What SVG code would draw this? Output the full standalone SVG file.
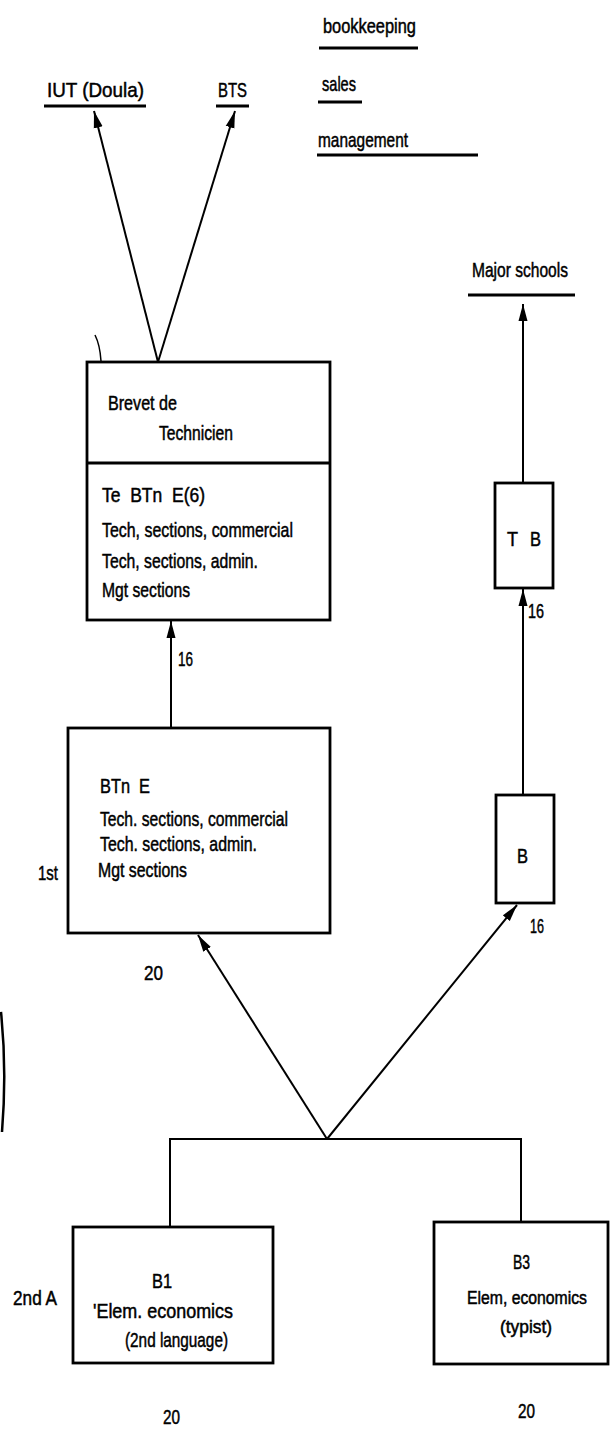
<svg xmlns="http://www.w3.org/2000/svg" width="610" height="1429" viewBox="0 0 610 1429">
<defs>
<marker id="ah" markerUnits="userSpaceOnUse" markerWidth="18" markerHeight="10" refX="17" refY="5" orient="auto">
<path d="M0,0.5 L17,5 L0,9.5 Z" fill="#000"/>
</marker>
<style>
text{font-family:"Liberation Sans Narrow","Liberation Sans",Arial,sans-serif;font-size:21px;fill:#000;stroke:#000;stroke-width:0.5px;}
.sm{font-size:18px;}
.box{fill:#fff;stroke:#000;stroke-width:2.8;}
.ln{fill:none;stroke:#000;stroke-width:2;}
.ul{fill:none;stroke:#000;stroke-width:2.8;}
.mark{fill:none;stroke:#000;}
</style>
</defs>
<rect x="0" y="0" width="610" height="1429" fill="#fff"/>

<g id="labels-top">
<text x="323" y="33" textLength="93" lengthAdjust="spacingAndGlyphs">bookkeeping</text>
<line class="ul" x1="319" y1="48" x2="418" y2="48"/>
<text x="322" y="91" textLength="34" lengthAdjust="spacingAndGlyphs">sales</text>
<line class="ul" x1="318" y1="102" x2="362" y2="102"/>
<text x="318" y="147" textLength="90" lengthAdjust="spacingAndGlyphs">management</text>
<line class="ul" x1="317" y1="155" x2="478" y2="155"/>
</g>

<g id="iut">
<text x="47" y="97" textLength="97" lengthAdjust="spacingAndGlyphs">IUT (Doula)</text>
<line class="ul" x1="44" y1="106" x2="146" y2="106"/>
</g>
<g id="bts">
<text x="218" y="97" textLength="29" lengthAdjust="spacingAndGlyphs">BTS</text>
<line class="ul" x1="216" y1="106" x2="249" y2="106"/>
</g>
<g id="major-schools">
<text x="472" y="277" textLength="96" lengthAdjust="spacingAndGlyphs">Major schools</text>
<line class="ul" x1="468" y1="295" x2="575" y2="295"/>
</g>

<g id="brevet">
<rect class="box" x="87" y="362" width="243" height="258"/>
<line class="box" x1="87" y1="463" x2="330" y2="463"/>
<text x="108" y="410" textLength="69" lengthAdjust="spacingAndGlyphs">Brevet de</text>
<text x="159" y="440" textLength="74" lengthAdjust="spacingAndGlyphs">Technicien</text>
<text x="102" y="502" textLength="103" lengthAdjust="spacingAndGlyphs" xml:space="preserve">Te  BTn  E(6)</text>
<text x="102" y="537" textLength="191" lengthAdjust="spacingAndGlyphs">Tech, sections, commercial</text>
<text x="102" y="568" textLength="156" lengthAdjust="spacingAndGlyphs">Tech, sections, admin.</text>
<text x="102" y="597" textLength="88" lengthAdjust="spacingAndGlyphs">Mgt sections</text>
</g>

<g id="btne">
<rect class="box" x="68" y="728" width="262" height="205"/>
<text x="100" y="793" textLength="50" lengthAdjust="spacingAndGlyphs" xml:space="preserve">BTn  E</text>
<text x="100" y="826" textLength="188" lengthAdjust="spacingAndGlyphs">Tech. sections, commercial</text>
<text x="100" y="851" textLength="157" lengthAdjust="spacingAndGlyphs">Tech. sections, admin.</text>
<text x="98" y="877" textLength="89" lengthAdjust="spacingAndGlyphs">Mgt sections</text>
</g>

<g id="tb">
<rect class="box" x="495" y="483" width="58" height="105"/>
<text x="507" y="546" textLength="11" lengthAdjust="spacingAndGlyphs">T</text>
<text x="530" y="546" textLength="11" lengthAdjust="spacingAndGlyphs">B</text>
</g>

<g id="b">
<rect class="box" x="496" y="795" width="58" height="108"/>
<text x="517" y="863" textLength="11" lengthAdjust="spacingAndGlyphs">B</text>
</g>

<g id="b1">
<rect class="box" x="73" y="1227" width="200" height="136"/>
<text x="152" y="1288" textLength="20" lengthAdjust="spacingAndGlyphs">B1</text>
<text x="93" y="1318" textLength="140" lengthAdjust="spacingAndGlyphs">'Elem. economics</text>
<text x="125" y="1347" textLength="103" lengthAdjust="spacingAndGlyphs">(2nd language)</text>
</g>

<g id="b3">
<rect class="box" x="434" y="1222" width="174" height="142"/>
<text x="513" y="1269" textLength="17" lengthAdjust="spacingAndGlyphs">B3</text>
<text class="sm" x="467" y="1304" textLength="120" lengthAdjust="spacingAndGlyphs">Elem, economics</text>
<text class="sm" x="500" y="1333" textLength="52" lengthAdjust="spacingAndGlyphs">(typist)</text>
</g>

<g id="side-labels">
<text x="178" y="666" textLength="15" lengthAdjust="spacingAndGlyphs">16</text>
<text x="38" y="880" textLength="20" lengthAdjust="spacingAndGlyphs">1st</text>
<text x="144" y="980" textLength="19" lengthAdjust="spacingAndGlyphs">20</text>
<text x="528" y="618" textLength="16" lengthAdjust="spacingAndGlyphs">16</text>
<text x="530" y="933" textLength="14" lengthAdjust="spacingAndGlyphs">16</text>
<text x="13" y="1305" textLength="44" lengthAdjust="spacingAndGlyphs">2nd A</text>
<text x="163" y="1424" textLength="17" lengthAdjust="spacingAndGlyphs">20</text>
<text x="518" y="1418" textLength="17" lengthAdjust="spacingAndGlyphs">20</text>
</g>

<g id="connectors">
<line class="ln" x1="158" y1="362" x2="94" y2="111" marker-end="url(#ah)"/>
<line class="ln" x1="158" y1="362" x2="235" y2="111" marker-end="url(#ah)"/>
<line class="ln" x1="171" y1="728" x2="171" y2="621" marker-end="url(#ah)"/>
<line class="ln" x1="523" y1="483" x2="523" y2="304" marker-end="url(#ah)"/>
<line class="ln" x1="523" y1="795" x2="523" y2="589" marker-end="url(#ah)"/>
<line class="ln" x1="327" y1="1139" x2="198" y2="935" marker-end="url(#ah)"/>
<line class="ln" x1="327" y1="1139" x2="517" y2="905" marker-end="url(#ah)"/>
<polyline class="ln" points="170,1227 170,1139 521,1139 521,1222"/>
</g>

<g id="scan-marks">
<path class="mark" stroke-width="1.5" d="M95,335 Q100,345 101,361"/>
<path class="mark" stroke-width="2.5" d="M1,1012 Q7,1070 2,1132"/>
</g>
</svg>
